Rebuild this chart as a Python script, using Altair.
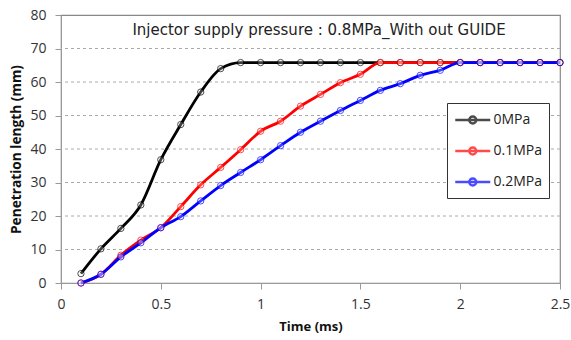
import altair as alt
import pandas as pd

time_ms = [0.1, 0.2, 0.3, 0.4, 0.5, 0.6, 0.7, 0.8, 0.9, 1.0, 1.1, 1.2, 1.3,
           1.4, 1.5, 1.6, 1.7, 1.8, 1.9, 2.0, 2.1, 2.2, 2.3, 2.4, 2.5]

p0 = [2.8, 10.2, 16.3, 23.3, 36.8, 47.3, 57.0, 64.0, 65.8, 65.8, 65.8, 65.8, 65.8,
      65.8, 65.8, 65.8, 65.8, 65.8, 65.8, 65.8, 65.8, 65.8, 65.8, 65.8, 65.8]
p1 = [0.0, 2.6, 8.3, 12.8, 16.5, 22.8, 29.3, 34.5, 39.8, 45.3, 48.3, 52.8, 56.3,
      59.8, 62.3, 65.8, 65.8, 65.8, 65.8, 65.8, 65.8, 65.8, 65.8, 65.8, 65.8]
p2 = [0.0, 2.6, 7.8, 12.0, 16.5, 19.8, 24.5, 29.1, 33.0, 36.8, 41.0, 45.0, 48.3,
      51.5, 54.5, 57.5, 59.5, 62.0, 63.5, 65.8, 65.8, 65.8, 65.8, 65.8, 65.8]

series_names = ["0MPa", "0.1MPa", "0.2MPa"]
series_colors = ["#000000", "#ff0000", "#0000ff"]
title_text = "Injector supply pressure : 0.8MPa_With out GUIDE"
y_ticks = [0, 10, 20, 30, 40, 50, 60, 70, 80]
grid_values = [10, 20, 30, 40, 50, 60, 70]
x_ticks = [0, 0.5, 1, 1.5, 2, 2.5]

rows = []
for name, vals in zip(series_names, [p0, p1, p2]):
    for t, v in zip(time_ms, vals):
        rows.append({"time": t, "len": v, "series": name})
df = pd.DataFrame(rows)

FONT = "Open Sans"

# line from -1..3 units, circle at 1 (units scaled by sqrt(size)/2)
legend_symbol = ("M-1,0L3,0 M0.6,0 A0.4,0.4 0 1,1 1.4,0 "
                 "A0.4,0.4 0 1,1 0.6,0")

color = alt.Color("series:N",
                  scale=alt.Scale(domain=series_names, range=series_colors),
                  sort=series_names,
                  legend=alt.Legend(title=None, orient="none", legendX=386, legendY=88,
                                    fillColor="white", strokeColor="#333",
                                    padding=7, labelFontSize=14, labelFont=FONT,
                                    labelColor="#222", symbolType=legend_symbol,
                                    symbolStrokeWidth=2.5, symbolSize=306,
                                    symbolFillColor="white",
                                    labelOffset=19.5, rowPadding=12))

xs = alt.X("time:Q", title="Time (ms)",
           scale=alt.Scale(domain=[0, 2.5], nice=False),
           axis=alt.Axis(values=x_ticks, grid=False, labelFlush=False,
                         labelExpr="datum.value == 0 ? '0' : format(datum.value, '~g')"))
ys = alt.Y("len:Q", title="Penetration length (mm)",
           scale=alt.Scale(domain=[0, 80], nice=False),
           axis=alt.Axis(values=y_ticks, grid=False, labelFlush=False))

grid = alt.Chart(pd.DataFrame({"len": grid_values})).mark_rule(
    color="#aaa", strokeWidth=1, strokeDash=[3, 3]
).encode(y=ys)

lines = alt.Chart(df).mark_line(
    strokeWidth=2.8, interpolate="monotone",
    point=alt.OverlayMarkDef(filled=False, fill="white", fillOpacity=0.35,
                             size=40, strokeWidth=1, opacity=0.7)
).encode(x=xs, y=ys, color=color, detail="series:N")

title = alt.Chart(pd.DataFrame({"t": [title_text]})).mark_text(
    font="DejaVu Sans", fontSize=15, color="#222", align="center", baseline="middle"
).encode(x=alt.value(258), y=alt.value(15), text="t:N")

chart = alt.layer(grid, lines, title).properties(
    width=499, height=268,
    autosize=alt.AutoSizeParams(type="none"),
    padding={"left": 61, "top": 15, "right": 11, "bottom": 57},
).configure_view(stroke="#888", strokeWidth=1.2).configure_axis(
    labelFont=FONT, titleFont=FONT, labelFontSize=14, labelColor="#333",
    titleFontSize=13, titleFontWeight="bold", titleColor="#111",
    domainColor="#999", tickColor="#999", tickSize=6,
).configure_axisX(titlePadding=9, labelPadding=8).configure_axisY(
    titlePadding=6, labelPadding=9, titleFontSize=13.7)

chart.save("out.html", embed_options={"renderer": "svg", "actions": False})
